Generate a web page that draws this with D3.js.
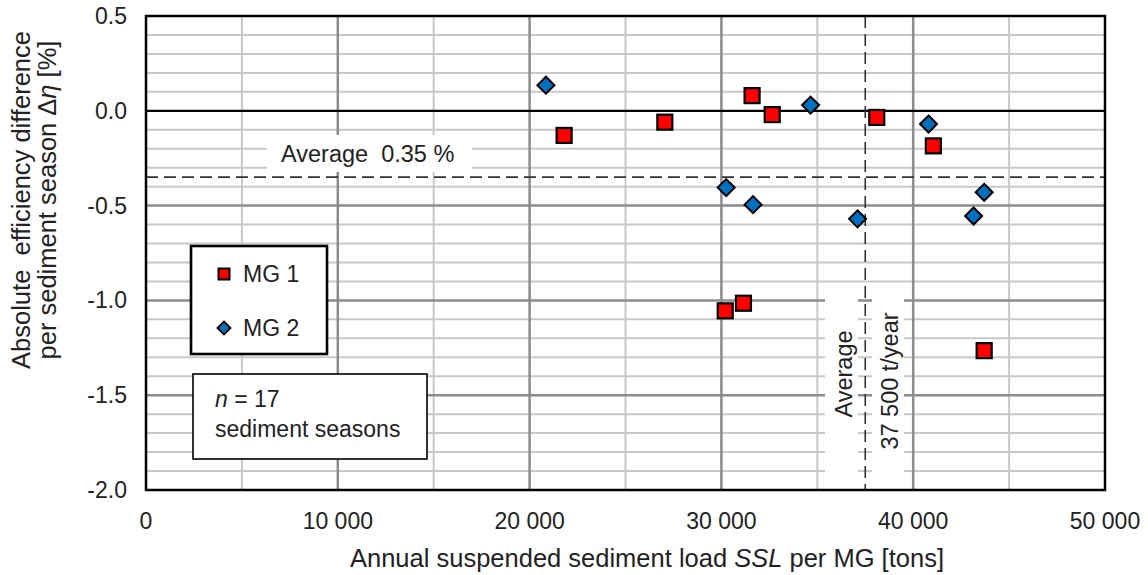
<!DOCTYPE html>
<html>
<head>
<meta charset="utf-8">
<script src="https://cdn.jsdelivr.net/npm/d3@7/dist/d3.min.js"></script>
<style>
  html, body { margin: 0; padding: 0; background: #fff; }
  svg { display: block; }
  text { font-family: "Liberation Sans", Arial, sans-serif; fill: #222; }
</style>
</head>
<body>
<svg id="chart" width="1148" height="575"></svg>
<script>
// ---- data ----
const mg1X = [21800, 27050, 31600, 32650, 38100, 41050, 43700, 30200, 31150];
const mg1Y = [-0.13, -0.06, 0.08, -0.02, -0.035, -0.185, -1.265, -1.055, -1.015];
const mg2X = [20850, 34650, 30250, 31650, 37100, 40800, 43700, 43150];
const mg2Y = [0.135, 0.03, -0.405, -0.495, -0.57, -0.07, -0.43, -0.555];
const xTicks = [0, 10000, 20000, 30000, 40000, 50000];
const xTickLabels = ["0", "10 000", "20 000", "30 000", "40 000", "50 000"];
const yTicks = [0.5, 0.0, -0.5, -1.0, -1.5, -2.0];
const yTickLabels = ["0.5", "0.0", "-0.5", "-1.0", "-1.5", "-2.0"];
const avgEff = -0.35;
const avgSSL = 37500;
const seriesNames = ["MG 1", "MG 2"];

// ---- layout ----
const L = 146, R = 1105, T = 16, B = 490;
const FS = 23, TFS = 25.5;
const svg = d3.select("#chart");
const x = d3.scaleLinear().domain([0, 50000]).range([L, R]);
const y = d3.scaleLinear().domain([-2, 0.5]).range([B, T]);

// gridlines
const g = svg.append("g");
const minorX = d3.range(5000, 50000, 10000);
const majorX = d3.range(10000, 50000, 10000);
const minorY = d3.range(-19, 5).filter(v => v % 5 !== 0).map(v => v / 10);
const majorY = [-1.5, -1.0, -0.5];
g.selectAll(".mny").data(minorY).join("line")
  .attr("x1", L).attr("x2", R).attr("y1", d => y(d)).attr("y2", d => y(d))
  .attr("stroke", "#c8c8c8").attr("stroke-width", 2);
g.selectAll(".mnx").data(minorX).join("line")
  .attr("y1", T).attr("y2", B).attr("x1", d => x(d)).attr("x2", d => x(d))
  .attr("stroke", "#c8c8c8").attr("stroke-width", 2);
g.selectAll(".mjy").data(majorY).join("line")
  .attr("x1", L).attr("x2", R).attr("y1", d => y(d)).attr("y2", d => y(d))
  .attr("stroke", "#8c8c8c").attr("stroke-width", 2.5);
g.selectAll(".mjx").data(majorX).join("line")
  .attr("y1", T).attr("y2", B).attr("x1", d => x(d)).attr("x2", d => x(d))
  .attr("stroke", "#8c8c8c").attr("stroke-width", 2.5);

// white label boxes
svg.append("rect").attr("x", 267).attr("y", 135).attr("width", 205).attr("height", 37).attr("fill", "#fff");
svg.append("rect").attr("x", 825).attr("y", 296).attr("width", 33).attr("height", B - 296 - 2).attr("fill", "#fff");
svg.append("rect").attr("x", 872).attr("y", 296).attr("width", 32).attr("height", B - 296 - 2).attr("fill", "#fff");

// zero line
svg.append("line").attr("x1", L).attr("x2", R).attr("y1", y(0)).attr("y2", y(0))
  .attr("stroke", "#000").attr("stroke-width", 2.2);

// average dashed lines
svg.append("line").attr("x1", L).attr("x2", R).attr("y1", y(avgEff)).attr("y2", y(avgEff))
  .attr("stroke", "#333").attr("stroke-width", 1.6).attr("stroke-dasharray", "12,6");
svg.append("line").attr("x1", x(avgSSL)).attr("x2", x(avgSSL)).attr("y1", T).attr("y2", B)
  .attr("stroke", "#333").attr("stroke-width", 1.6).attr("stroke-dasharray", "12,6");

function label(parent, tx, ty, str, anchor, rot, fs) {
  return parent.append("text")
    .attr("transform", `translate(${tx},${ty})` + (rot ? ` rotate(${rot})` : ""))
    .attr("text-anchor", anchor || "start")
    .attr("font-size", fs || FS)
    .text(str);
}
label(svg, 281, 162, "Average\u00a0\u00a00.35 %", "start", 0, 23.5);
label(svg, 852, 374, "Average", "middle", -90, 23.5);
label(svg, 898, 381, "37 500 t/year", "middle", -90, 23.5);

// points
const sq = 15;
svg.append("g").selectAll("rect").data(mg1X.map((v, i) => [v, mg1Y[i]])).join("rect")
  .attr("x", d => x(d[0]) - sq / 2).attr("y", d => y(d[1]) - sq / 2)
  .attr("width", sq).attr("height", sq)
  .attr("fill", "#ff0000").attr("stroke", "#000").attr("stroke-width", 2.2);
const dm = 8.5;
const diamond = (cx, cy, r) => `M${cx},${cy - r}L${cx + r},${cy}L${cx},${cy + r}L${cx - r},${cy}Z`;
svg.append("g").selectAll("path").data(mg2X.map((v, i) => [v, mg2Y[i]])).join("path")
  .attr("d", d => diamond(x(d[0]), y(d[1]), dm))
  .attr("fill", "#0070c0").attr("stroke", "#000").attr("stroke-width", 2);

// frame
svg.append("rect").attr("x", L).attr("y", T).attr("width", R - L).attr("height", B - T)
  .attr("fill", "none").attr("stroke", "#000").attr("stroke-width", 2.5);

// y ticks
svg.append("g").selectAll("text").data(yTicks).join("text")
  .attr("transform", d => `translate(127,${y(d) + 8})`)
  .attr("text-anchor", "end").attr("font-size", FS)
  .text((d, i) => yTickLabels[i]);
// x ticks
svg.append("g").selectAll("text").data(xTicks).join("text")
  .attr("transform", d => `translate(${x(d)},529)`)
  .attr("text-anchor", "middle").attr("font-size", FS)
  .text((d, i) => xTickLabels[i]);

// x title
const xt = svg.append("text")
  .attr("transform", `translate(350,567)`)
  .attr("font-size", TFS);
xt.append("tspan").text("Annual suspended sediment load ");
xt.append("tspan").attr("font-style", "italic").text("SSL");
xt.append("tspan").text(" per MG [tons]");

// y title
const yt1 = svg.append("text")
  .attr("transform", `translate(30,200) rotate(-90)`)
  .attr("text-anchor", "middle").attr("font-size", TFS)
  .text("Absolute\u00a0 efficiency difference");
const yt2 = svg.append("text")
  .attr("transform", `translate(56,200) rotate(-90)`)
  .attr("text-anchor", "middle").attr("font-size", TFS);
yt2.append("tspan").text("per sediment season \u0394");
yt2.append("tspan").attr("font-style", "italic").text("\u03b7");
yt2.append("tspan").text(" [%]");

// legend box
const lg = svg.append("g");
lg.append("rect").attr("x", 191).attr("y", 246).attr("width", 136).attr("height", 108)
  .attr("fill", "#fff").attr("stroke", "#000").attr("stroke-width", 2.6);
lg.append("rect").attr("x", 224 - 5.5).attr("y", 274 - 5.5).attr("width", 11).attr("height", 11)
  .attr("fill", "#ff0000").attr("stroke", "#000").attr("stroke-width", 2);
lg.append("path").attr("d", diamond(224, 328, 6.5))
  .attr("fill", "#0070c0").attr("stroke", "#000").attr("stroke-width", 1.8);
label(lg, 243, 282, seriesNames[0], "start");
label(lg, 243, 336, seriesNames[1], "start");

// n box
const nb = svg.append("g");
nb.append("rect").attr("x", 193).attr("y", 374).attr("width", 234).attr("height", 85)
  .attr("fill", "#fff").attr("stroke", "#000").attr("stroke-width", 1.6);
const nt = nb.append("text").attr("transform", `translate(215,407)`).attr("font-size", FS);
nt.append("tspan").attr("font-style", "italic").text("n");
nt.append("tspan").text(" = 17");
label(nb, 215, 437, "sediment seasons", "start");
</script>
</body>
</html>
